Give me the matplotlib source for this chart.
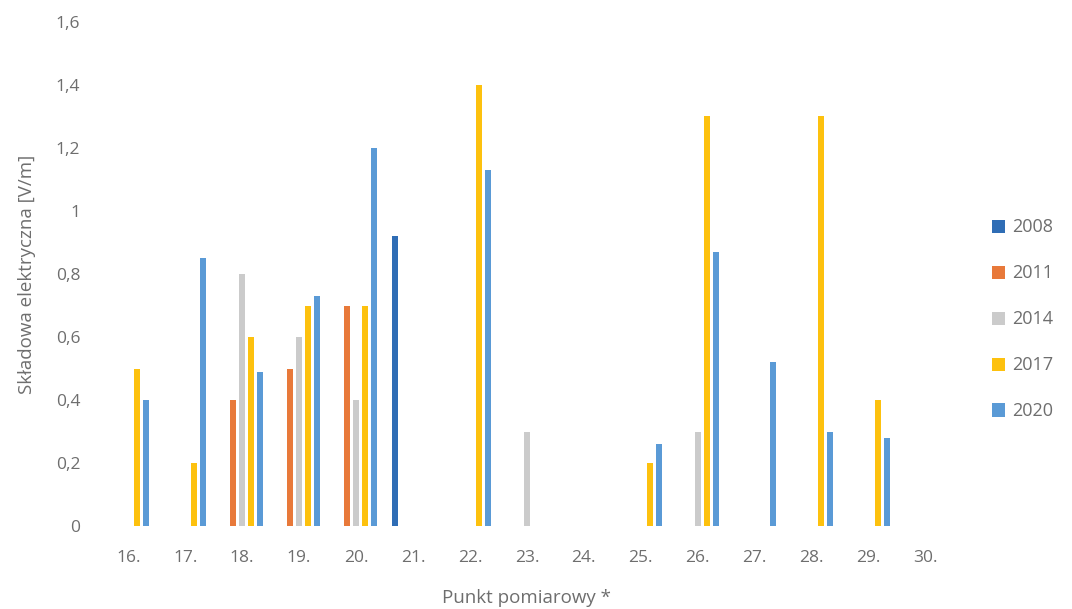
import numpy as np
import matplotlib.pyplot as plt
from matplotlib.ticker import FuncFormatter, MultipleLocator

# punkty pomiarowe 16-30
punkty = ['16.', '17.', '18.', '19.', '20.', '21.', '22.', '23.', '24.', '25.',
          '26.', '27.', '28.', '29.', '30.']
lata = ['2008', '2011', '2014', '2017', '2020']

# wartosci [V/m], NaN = brak pomiaru
e2008 = [np.nan, np.nan, np.nan, np.nan, np.nan, 0.92, np.nan, np.nan, np.nan, np.nan,
         np.nan, np.nan, np.nan, np.nan, np.nan]
e2011 = [np.nan, np.nan, 0.4, 0.5, 0.7, np.nan, np.nan, np.nan, np.nan, np.nan,
         np.nan, np.nan, np.nan, np.nan, np.nan]
e2014 = [np.nan, np.nan, 0.8, 0.6, 0.4, np.nan, np.nan, 0.3, np.nan, np.nan,
         0.3, np.nan, np.nan, np.nan, np.nan]
e2017 = [0.5, 0.2, 0.6, 0.7, 0.7, np.nan, 1.4, np.nan, np.nan, 0.2,
         1.3, np.nan, 1.3, 0.4, np.nan]
e2020 = [0.4, 0.85, 0.49, 0.73, 1.2, np.nan, 1.13, np.nan, np.nan, 0.26,
         0.87, 0.52, 0.3, 0.28, np.nan]

serie = [e2008, e2011, e2014, e2017, e2020]
kolory = ['#2F6DB5', '#E8793A', '#CBCBCB', '#FDC10E', '#5A9AD6']

szary = '#6E6E6E'
plt.rcParams['font.family'] = ['Open Sans', 'DejaVu Sans']

fig = plt.figure(figsize=(10.72, 6.09), dpi=100)
ax = fig.add_axes([0.093, 0.136, 0.797, 0.828])

x = np.arange(len(punkty))
slot = 0.158
for i, (rok, wart, kol) in enumerate(zip(lata, serie, kolory)):
    ax.bar(x + (i - 2) * slot, wart, width=0.105, color=kol, label=rok)

ax.set_xlim(-0.5, len(punkty) - 0.5)
ax.set_ylim(0, 1.6)
ax.yaxis.set_major_locator(MultipleLocator(0.2))
ax.yaxis.set_major_formatter(FuncFormatter(lambda v, p: f'{v:.1f}'.rstrip('0').rstrip('.').replace('.', ',')))
ax.set_xticks(x)
ax.set_xticklabels(punkty)

for s in ax.spines.values():
    s.set_visible(False)
ax.tick_params(length=0, labelsize=12.5, colors=szary, pad=17)
ax.tick_params(axis='y', pad=14)

ax.set_xlabel('Punkt pomiarowy *', fontsize=13.5, color=szary, labelpad=17)
ax.set_ylabel('Składowa elektryczna [V/m]', fontsize=13.5, color=szary, labelpad=14)

leg = ax.legend(loc='center left', bbox_to_anchor=(1.025, 0.41), frameon=False,
                fontsize=13, labelcolor=szary, handlelength=0.75, handleheight=0.75,
                handletextpad=0.4, labelspacing=1.55)

fig.savefig('out.png', dpi=100, facecolor='white')
